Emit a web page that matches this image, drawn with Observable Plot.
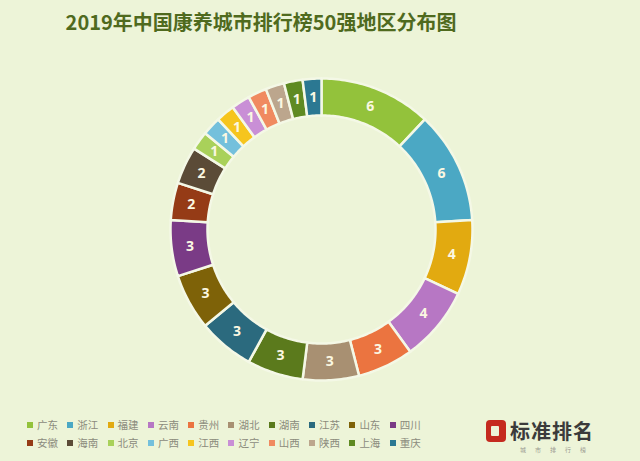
<!DOCTYPE html>
<html><head><meta charset="utf-8">
<script src="https://cdn.jsdelivr.net/npm/d3@7"></script>
<script src="https://cdn.jsdelivr.net/npm/@observablehq/plot@0.6"></script>
<style>
html,body{margin:0;padding:0;background:#edf4d8;}
#wrap{position:relative;width:640px;height:461px;overflow:hidden;background:#edf4d8;font-family:"Noto Sans CJK SC",sans-serif;}
#title{position:absolute;left:0;top:7px;width:522px;text-align:center;font-size:20px;font-weight:bold;color:#4f6a1e;letter-spacing:0px;}
#chart{position:absolute;left:0;top:45px;}
#legend{position:absolute;left:27px;top:417px;display:grid;grid-template-columns:repeat(10,40.3px);row-gap:3px;font-size:10.5px;line-height:15px;color:#8b8b7c;}
#legend .it{display:flex;align-items:center;white-space:nowrap;}
#legend .sw{width:6px;height:6px;margin-right:4px;flex:none;}
#logo{position:absolute;left:484px;top:414px;width:150px;height:40px;}
#logo .ic{position:absolute;left:2px;top:6px;width:20px;height:22px;background:#c52a1f;border-radius:4px;}
#logo .ic:after{content:"";position:absolute;left:5px;top:6px;width:8px;height:10px;background:#edf4d8;border-radius:1px;}
#logo .tx{position:absolute;left:26px;top:2px;font-size:20px;font-weight:bold;color:#3b3b3b;letter-spacing:1px;}
#logo .sub{position:absolute;left:36px;top:31px;font-size:6px;color:#9a9a90;letter-spacing:9px;}
</style></head>
<body>
<div id="wrap">
  <div id="title">2019年中国康养城市排行榜50强地区分布图</div>
  <div id="chart"></div>
  <div id="legend"></div>
  <div id="logo"><div class="ic"></div><div class="tx">标准排名</div><div class="sub">城市排行榜</div></div>
</div>
<script>
const regions = ["广东","浙江","福建","云南","贵州","湖北","湖南","江苏","山东","四川","安徽","海南","北京","广西","江西","辽宁","山西","陕西","上海","重庆"];
const counts  = [6,6,4,4,3,3,3,3,3,3,2,2,1,1,1,1,1,1,1,1];
const colors  = ["#93c23b","#4ba8c4","#e2aa10","#b777c4","#eb7440","#a89072","#5b7a1c","#2b6a7e","#7e6208","#7a3b86","#953b16","#5b4b37","#a9d15a","#74c0dc","#f6c51d","#c98fd6","#f08a60","#bca68d","#5f8a22","#2b7892"];

const W = 640, H = 360, cx = 321, cy = 184, R = 151;
const rOuter = 1, rInner = 0.755;
const total = d3.sum(counts);

// build donut slice polygons from the counts
const poly = [];
const labels = [];
let cum = 0;
regions.forEach((name, i) => {
  const a0 = cum / total * 2 * Math.PI;
  cum += counts[i];
  const a1 = cum / total * 2 * Math.PI;
  const n = Math.max(4, Math.ceil((a1 - a0) / (Math.PI / 180)));
  const pts = [];
  for (let k = 0; k <= n; k++) {
    const a = a0 + (a1 - a0) * k / n;
    pts.push({name, x: rOuter * Math.sin(a), y: rOuter * Math.cos(a)});
  }
  for (let k = n; k >= 0; k--) {
    const a = a0 + (a1 - a0) * k / n;
    pts.push({name, x: rInner * Math.sin(a), y: rInner * Math.cos(a)});
  }
  pts.push({...pts[0]});
  poly.push(...pts);
  const am = (a0 + a1) / 2, rm = (rOuter + rInner) / 2;
  labels.push({name, value: counts[i], x: rm * Math.sin(am), y: rm * Math.cos(am)});
});

const chart = Plot.plot({
  width: W, height: H, margin: 0,
  style: {background: "transparent", overflow: "visible"},
  x: {domain: [-cx / R, (W - cx) / R], axis: null},
  y: {domain: [-(H - cy) / R, cy / R], axis: null},
  color: {domain: regions, range: colors},
  marks: [
    Plot.line(poly, {x: "x", y: "y", z: "name", fill: "name", stroke: "#f4f8e6", strokeWidth: 2.5, curve: "linear"}),
    Plot.text(labels, {x: "x", y: "y", text: "value", fill: "#fbf8e2", fontSize: 14, fontWeight: "bold", fontFamily: "Open Sans, sans-serif"})
  ]
});
document.getElementById("chart").appendChild(chart);

const leg = document.getElementById("legend");
regions.forEach((name, i) => {
  const it = document.createElement("div");
  it.className = "it";
  const sw = document.createElement("span");
  sw.className = "sw";
  sw.style.background = colors[i];
  const tx = document.createElement("span");
  tx.textContent = name;
  it.appendChild(sw); it.appendChild(tx);
  leg.appendChild(it);
});
</script>
</body></html>
